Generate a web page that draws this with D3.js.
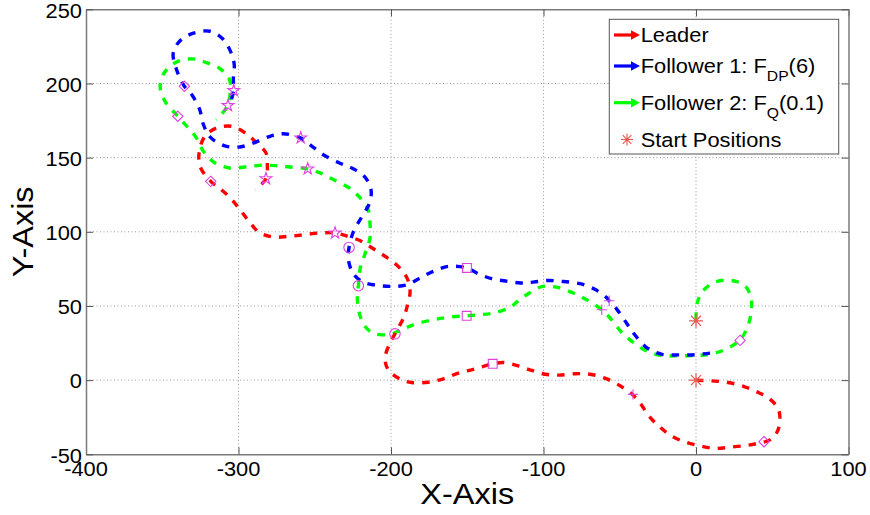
<!DOCTYPE html>
<html>
<head>
<meta charset="utf-8">
<script src="https://cdn.jsdelivr.net/npm/d3@7"></script>
<style>
  body { margin: 0; background: #fff; }
  svg { display: block; }
  text { font-family: "Liberation Sans", Arial, sans-serif; fill: #000; }
</style>
</head>
<body>
<svg id="chart" width="870" height="515"></svg>
<script>
// ---- data -------------------------------------------------------------
const xTicks = [-400, -300, -200, -100, 0, 100];
const yTicks = [-50, 0, 50, 100, 150, 200, 250];
const xLabel = "X-Axis";
const yLabel = "Y-Axis";

// Leader trajectory (x, y)
const leaderPath = [
  [0, 0], [10, -0.5], [21, -1.6], [31.5, -4.3], [41, -8.4], [48.5, -12.8], [54, -19.6],
  [55, -28], [53, -35.3], [48.5, -40.3], [41, -42.5], [33, -44], [22, -45.2], [12, -46],
  [1.5, -44], [-8, -41.4], [-17, -37], [-24, -31.3], [-30.6, -24.6], [-36.3, -16],
  [-41.5, -9.9], [-49.8, -3.8], [-59.7, 1.3], [-69.5, 4], [-79.3, 4.3], [-89.8, 3.4],
  [-99, 4], [-107.7, 6.5], [-116.5, 9.6], [-126.4, 11.9], [-133.3, 11], [-144.9, 7.6],
  [-155.9, 4.7], [-165.7, 0.9], [-175.5, -1.4], [-186.4, -1.6], [-194.1, 0.7], [-201.8, 7],
  [-203.9, 14.8], [-200.7, 25], [-197.4, 31.2], [-191.9, 41.8], [-189.3, 50.1],
  [-187.5, 59.8], [-189.3, 68.4], [-194.8, 76.2], [-202.8, 82.7], [-211.6, 88.6],
  [-219.2, 93.5], [-228, 96.9], [-236.7, 99.2], [-246.6, 99.2], [-257.5, 98],
  [-267.3, 96.9], [-277.2, 96.5], [-286.4, 99.6], [-293.1, 107], [-299, 114.9],
  [-304.9, 122.3], [-312.1, 129.1], [-318.2, 134], [-325.2, 144.1], [-325.7, 154.3],
  [-322, 164.4], [-314.3, 170], [-304.5, 171.1], [-295.7, 166.7], [-288.5, 160.3],
  [-282, 153.2], [-281.1, 145.3], [-282, 135.8], [-289.2, 128.4]
];

// Follower 1 trajectory (x, y)
const follower1Path = [
  [9.2, 18.2], [-0.7, 17.1], [-11.6, 17], [-22.3, 17.4], [-31.9, 21.6], [-40.4, 30.9],
  [-45.6, 38.5], [-52, 47.9], [-56.9, 53.5], [-59, 56], [-66.7, 61.4], [-76.1, 65],
  [-87, 66.5], [-96.9, 67.2], [-106.7, 66.1], [-115, 65.5], [-124.8, 66.8], [-134, 68.4],
  [-142.8, 71.7], [-150.2, 75.6], [-162.4, 76.7], [-172.3, 73.3], [-182.1, 68.2],
  [-189.3, 64.3], [-198.5, 63.2], [-208.3, 63.8], [-218.2, 66.1], [-224.7, 71.7],
  [-228, 81.6], [-227.5, 89.5], [-224.7, 100], [-219.2, 110], [-214.2, 119.2],
  [-213.1, 128.4], [-217.5, 137.4], [-225.8, 143], [-233.8, 146.4], [-243.8, 151.6],
  [-252, 157.8], [-259.4, 163.3], [-270.8, 166.1], [-279.3, 164.4], [-289.2, 160.3],
  [-299, 157.2], [-309.5, 158.1], [-318.7, 164], [-323, 172.3], [-325.6, 182.9],
  [-330.7, 192.5], [-335.5, 198.1], [-340.5, 209], [-342.8, 220.6], [-338, 229.1],
  [-329, 234.1], [-318.7, 235.2], [-310.4, 230.1], [-305.1, 221.3], [-302.8, 212.8],
  [-303.4, 203.1], [-303.1, 195.2], [-305.1, 188]
];

// Follower 2 trajectory (x, y)
const follower2Path = [
  [0, 40.7], [0.9, 52.4], [4.4, 59.8], [12, 65.9], [23.4, 67.2], [32.1, 63.6], [35.9, 56],
  [36.1, 45.2], [33.2, 34.4], [28.9, 27.2], [19.7, 20.9], [9.2, 17.5], [-0.7, 16.6],
  [-11.6, 16.4], [-22.5, 16.6], [-32.5, 19.6], [-41.8, 26], [-48.7, 32.1], [-55.3, 40.7],
  [-61.8, 47.4], [-71.7, 54.2], [-80.4, 58.7], [-90.9, 62.5], [-100.5, 63.2],
  [-109.3, 58.7], [-116.5, 53.5], [-122, 49], [-132.9, 45.2], [-141.6, 44.1],
  [-150.4, 43.4], [-161.3, 42.5], [-172.3, 40.7], [-183.2, 38], [-191.9, 34.6],
  [-199.5, 31.2], [-210.5, 31.2], [-217, 36.2], [-220.8, 45.2], [-222.1, 56.4],
  [-221.4, 63.6], [-220.3, 74.9], [-217, 85.2], [-213.8, 95.8], [-213.8, 105.9],
  [-215, 114.9], [-220.8, 123.5], [-226.9, 129.2], [-237.8, 135.2], [-246.6, 139.7],
  [-254.6, 142.4], [-266.2, 143.7], [-275.4, 144.6], [-285.9, 144.8], [-295.7, 143.7],
  [-306, 143], [-316, 146.8], [-322.8, 154], [-328.2, 164.2], [-334.7, 172],
  [-339.8, 177.9], [-348.5, 188.5], [-351.4, 198.1], [-348.7, 207.2], [-340.9, 214.3],
  [-330.6, 216.6], [-321.9, 214.3], [-312, 209.9], [-305.9, 202.6], [-305.5, 194],
  [-306.9, 185.1], [-314.7, 175.6]
];

// Time-stamp markers along each trajectory (same instants for every agent)
const markerShapes = ["diamond", "plus", "square", "circle", "pentagram", "diamond", "pentagram"];
const leaderMarks = [[44.6, -41.5], [-41.3, -9.6], [-133.3, 11], [-197.4, 31.2], [-236.7, 99.2], [-318.2, 134], [-282, 135.8]];
const follower1Marks = [null, [-56.9, 53.5], [-150.2, 75.6], [-227.5, 89.5], [-259.2, 163.3], [-335.5, 198.1], [-303.1, 195.2]];
const follower2Marks = [[28.9, 26.8], [-61.8, 47.4], [-150.4, 43.4], [-221.4, 63.6], [-254.6, 142.4], [-339.8, 177.9], [-306.9, 185.1]];

// Start positions
const startPositions = [[0, 0], [0, 40]];

// Legend entries
const seriesNames = ["Leader", "Follower 1: F", "Follower 2: F"];
const seriesSubs = ["", "DP", "Q"];
const seriesTails = ["", "(6)", "(0.1)"];
const startLabel = "Start Positions";

// ---- layout -----------------------------------------------------------
const colors = ["#ff0000", "#0000ff", "#00ff00"];
const markColor = "#e040e0";
const starColor = "#e8584f";
const SX = 1.12;               // horizontal stretch of the lettering
const plotL = 86, plotR = 848.5, plotT = 9.3, plotB = 454.3;

const svg = d3.select("#chart");
const x = d3.scaleLinear().domain([-400, 100]).range([plotL, plotR]);
const y = d3.scaleLinear().domain([-50, 250]).range([plotB, plotT]);

function label(g, str, px, py, size, anchor) {
  return g.append("text")
    .attr("transform", `translate(${px},${py}) scale(${SX},1)`)
    .attr("font-size", size)
    .attr("text-anchor", anchor || "start")
    .text(str);
}

// grid
const grid = svg.append("g").attr("stroke", "#9a9a9a").attr("stroke-width", 1)
  .attr("stroke-dasharray", "1,2.5");
grid.selectAll("line.gx").data(xTicks.slice(1, -1)).join("line").attr("class", "gx")
  .attr("x1", d => x(d)).attr("x2", d => x(d)).attr("y1", plotT).attr("y2", plotB);
grid.selectAll("line.gy").data(yTicks.slice(1, -1)).join("line").attr("class", "gy")
  .attr("x1", plotL).attr("x2", plotR).attr("y1", d => y(d)).attr("y2", d => y(d));

// axes (ticks point inwards on all four sides)
const tickLen = 7;
const axisColor = "#7a7a7a";
const gxB = svg.append("g").attr("transform", `translate(0,${plotB})`)
  .call(d3.axisBottom(x).tickValues(xTicks).tickSize(-tickLen).tickSizeOuter(0).tickFormat(""));
const gxT = svg.append("g").attr("transform", `translate(0,${plotT})`)
  .call(d3.axisTop(x).tickValues(xTicks).tickSize(-tickLen).tickSizeOuter(0).tickFormat(""));
const gyL = svg.append("g").attr("transform", `translate(${plotL},0)`)
  .call(d3.axisLeft(y).tickValues(yTicks).tickSize(-tickLen).tickSizeOuter(0).tickFormat(""));
const gyR = svg.append("g").attr("transform", `translate(${plotR},0)`)
  .call(d3.axisRight(y).tickValues(yTicks).tickSize(-tickLen).tickSizeOuter(0).tickFormat(""));
[gxB, gxT, gyL, gyR].forEach(g => {
  g.select(".domain").attr("stroke", axisColor).attr("stroke-width", 1.5);
  g.selectAll(".tick line").attr("stroke", "#555").attr("stroke-width", 1);
});

// tick labels
const tl = svg.append("g");
xTicks.forEach(v => label(tl, String(v), x(v), plotB + 21.5, 19.5, "middle"));
yTicks.forEach(v => label(tl, String(v), plotL - 4, y(v) + 8.3, 19.5, "end"));

// axis titles
label(svg, xLabel, (plotL + plotR) / 2, 504, 29, "middle");
svg.append("text")
  .attr("transform", `translate(33,${(plotT + plotB) / 2}) rotate(-90) scale(${SX},1)`)
  .attr("font-size", 29).attr("text-anchor", "middle").text(yLabel);

// trajectories
const line = d3.line().x(d => x(d[0])).y(d => y(d[1])).curve(d3.curveCatmullRom.alpha(0.5));
const paths = [leaderPath, follower1Path, follower2Path];
const drawOrder = [2, 0, 1];
const plot = svg.append("g");
drawOrder.forEach(i => {
  plot.append("path").attr("d", line(paths[i]))
    .attr("fill", "none").attr("stroke", colors[i]).attr("stroke-width", 3.4)
    .attr("stroke-dasharray", "7.5,8");
});

// marker glyphs
function glyph(shape, r) {
  switch (shape) {
    case "diamond": return `M0,${-r}L${r},0L0,${r}L${-r},0Z`;
    case "square": return `M${-r * 0.85},${-r * 0.85}h${r * 1.7}v${r * 1.7}h${-r * 1.7}Z`;
    case "plus": return `M${-r},0H${r}M0,${-r}V${r}`;
    case "circle": return d3.symbol(d3.symbolCircle, Math.PI * r * r)();
    case "pentagram": return d3.symbol(d3.symbolStar, r * r * 1.6)();
    case "asterisk": {
      const a = r * 0.72;
      return `M${-r},0H${r}M0,${-r}V${r}M${-a},${-a}L${a},${a}M${-a},${a}L${a},${-a}`;
    }
  }
}
const marks = svg.append("g").attr("fill", "none").attr("stroke", markColor).attr("stroke-width", 1.1);
[leaderMarks, follower1Marks, follower2Marks].forEach(list => {
  list.forEach((p, k) => {
    if (!p) return;
    marks.append("path").attr("d", glyph(markerShapes[k], 5.2))
      .attr("transform", `translate(${x(p[0])},${y(p[1])})`);
  });
});

// start positions
svg.append("g").attr("stroke", starColor).attr("stroke-width", 1.2).attr("fill", "none")
  .selectAll("path").data(startPositions).join("path")
  .attr("d", glyph("asterisk", 7))
  .attr("transform", d => `translate(${x(d[0])},${y(d[1])})`);

// legend
const lg = svg.append("g");
lg.append("rect").attr("x", 609.3).attr("y", 19.3).attr("width", 229.4).attr("height", 134.7)
  .attr("fill", "#fff").attr("stroke", "#555").attr("stroke-width", 1);
const rowBase = [42.3, 73.3, 110];
seriesNames.forEach((name, i) => {
  const ay = rowBase[i] - 7.3;
  lg.append("line").attr("x1", 614).attr("x2", 633).attr("y1", ay).attr("y2", ay)
    .attr("stroke", colors[i]).attr("stroke-width", 3.2);
  lg.append("path").attr("d", `M631,${ay - 4.8}L640,${ay}L631,${ay + 4.8}Z`).attr("fill", colors[i]);
  const t = label(lg, "", 640.7, rowBase[i], 19.5);
  t.append("tspan").text(name);
  if (seriesSubs[i]) {
    t.append("tspan").attr("font-size", 14).attr("dy", 8).text(seriesSubs[i]);
    t.append("tspan").attr("dy", -8).text(seriesTails[i]);
  }
});
lg.append("path").attr("d", glyph("asterisk", 6))
  .attr("transform", "translate(627,139.5)")
  .attr("stroke", starColor).attr("stroke-width", 1.1).attr("fill", "none");
label(lg, startLabel, 640.7, 146.7, 19.5);
</script>
</body>
</html>
